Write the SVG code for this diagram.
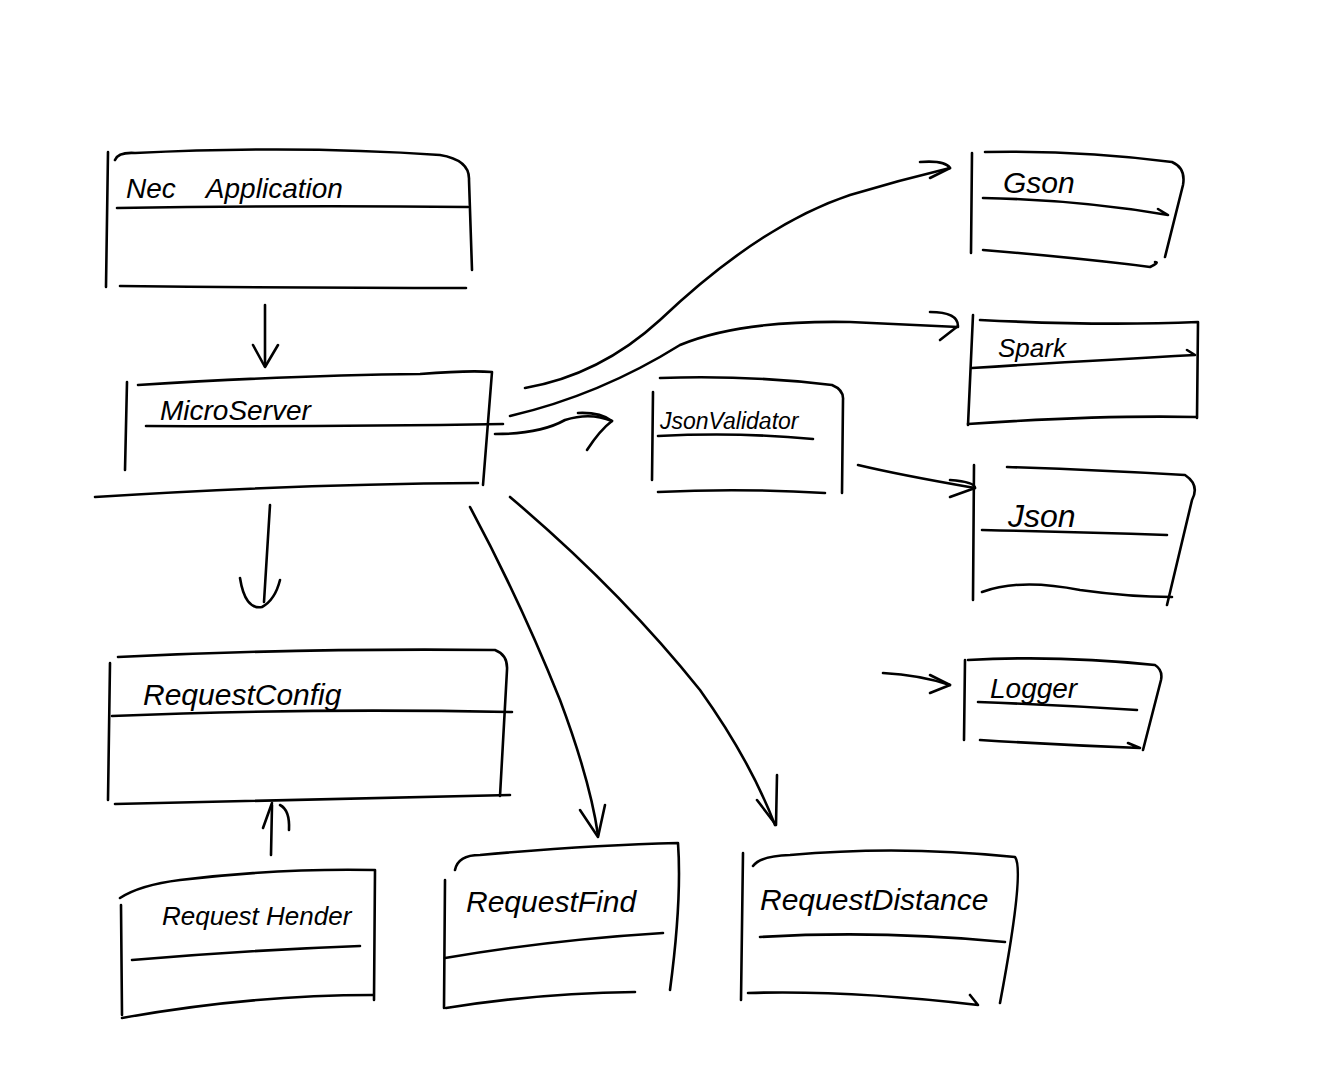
<svg xmlns="http://www.w3.org/2000/svg" width="1340" height="1080" viewBox="0 0 1340 1080">
<style>
.s{fill:none;stroke:#000;stroke-width:2.6;stroke-linecap:round;stroke-linejoin:round}
.t{font-family:"Liberation Sans",Arial,sans-serif;font-style:italic;fill:#000}
</style>
<rect width="1340" height="1080" fill="#fff"/>
<g id="node-nec-application">
<path class="s" d="M108 152 L106 287"/>
<path class="s" d="M115 160 Q118 152 135 153 Q300 145 440 155 Q470 160 469 180 L472 270"/>
<path class="s" d="M117 208 Q300 205 468 207"/>
<path class="s" d="M120 286 Q300 288 466 288"/>
<text class="t" x="126" y="198" font-size="28" xml:space="preserve">Nec    Application</text>
</g>
<g id="node-microserver">
<path class="s" d="M127 382 L125 470"/>
<path class="s" d="M138 385 Q300 375 420 374 Q470 370 492 372 L483 485"/>
<path class="s" d="M146 426 Q320 427 503 424"/>
<path class="s" d="M95 497 Q300 484 478 483"/>
<text class="t" x="160" y="420" font-size="28">MicroServer</text>
</g>
<g id="node-requestconfig">
<path class="s" d="M110 663 L108 800"/>
<path class="s" d="M118 657 Q300 648 495 650 Q508 655 507 670 L500 796"/>
<path class="s" d="M112 716 Q300 708 512 712"/>
<path class="s" d="M115 804 Q300 800 510 795"/>
<text class="t" x="143" y="705" font-size="30">RequestConfig</text>
</g>
<g id="node-request-header">
<path class="s" d="M121 905 L122 1015"/>
<path class="s" d="M120 898 Q140 885 180 880 Q280 868 375 870 L374 1000"/>
<path class="s" d="M132 960 Q250 950 360 946"/>
<path class="s" d="M122 1018 Q250 995 373 995"/>
<text class="t" x="162" y="925" font-size="26">Request Hender</text>
</g>
<g id="node-requestfind">
<path class="s" d="M445 880 L444 1008"/>
<path class="s" d="M455 870 Q458 855 480 855 Q590 845 678 843 Q682 900 670 990"/>
<path class="s" d="M445 958 Q550 940 663 933"/>
<path class="s" d="M446 1008 Q540 993 635 992"/>
<text class="t" x="466" y="912" font-size="30">RequestFind</text>
</g>
<g id="node-requestdistance">
<path class="s" d="M743 853 L741 1000"/>
<path class="s" d="M753 866 Q760 856 790 855 Q900 845 1015 857 Q1025 870 1000 1003"/>
<path class="s" d="M760 937 Q880 930 1005 942"/>
<path class="s" d="M748 993 Q850 990 978 1005 L970 995"/>
<text class="t" x="760" y="910" font-size="30">RequestDistance</text>
</g>
<g id="node-jsonvalidator">
<path class="s" d="M653 392 L652 480"/>
<path class="s" d="M660 378 Q750 375 832 385 Q844 390 843 400 L842 493"/>
<path class="s" d="M658 436 Q740 432 813 439"/>
<path class="s" d="M658 492 Q740 488 825 493"/>
<text class="t" x="660" y="429" font-size="23">JsonValidator</text>
</g>
<g id="node-gson">
<path class="s" d="M972 153 L971 253"/>
<path class="s" d="M985 152 Q1080 150 1172 162 Q1186 168 1183 185 L1165 257"/>
<path class="s" d="M983 198 Q1080 200 1168 215 L1158 209"/>
<path class="s" d="M983 250 Q1080 258 1150 267 Q1160 262 1155 262"/>
<text class="t" x="1003" y="193" font-size="30">Gson</text>
</g>
<g id="node-spark">
<path class="s" d="M973 315 L968 425"/>
<path class="s" d="M980 320 Q1100 326 1198 322 L1197 418"/>
<path class="s" d="M972 368 Q1100 360 1195 355 L1187 350"/>
<path class="s" d="M968 424 Q1100 415 1196 417"/>
<text class="t" x="998" y="357" font-size="26">Spark</text>
</g>
<g id="node-json">
<path class="s" d="M974 465 L973 600"/>
<path class="s" d="M1007 467 Q1100 470 1185 475 Q1200 485 1192 500 L1167 605"/>
<path class="s" d="M982 530 Q1080 532 1167 535"/>
<path class="s" d="M982 592 Q1020 578 1080 590 Q1130 597 1172 597"/>
<text class="t" x="1008" y="527" font-size="32">Json</text>
</g>
<g id="node-logger">
<path class="s" d="M965 660 L964 740"/>
<path class="s" d="M968 660 Q1060 655 1155 665 Q1163 670 1161 680 L1143 750"/>
<path class="s" d="M978 702 Q1060 705 1137 710"/>
<path class="s" d="M980 740 Q1060 745 1140 748 L1128 743"/>
<text class="t" x="990" y="698" font-size="28">Logger</text>
</g>
<g id="connectors">
<path class="s" d="M265 305 L265 366"/>
<path class="s" d="M253 345 L265 367 L278 345"/>
<path class="s" d="M270 505 L264 602"/>
<path class="s" d="M240 578 Q245 610 262 607 Q275 600 280 580"/>
<path class="s" d="M271 855 L272 805"/>
<path class="s" d="M263 828 L272 803"/>
<path class="s" d="M280 805 Q290 810 289 830"/>
<path class="s" d="M470 507 Q520 600 560 700 Q590 780 598 835"/>
<path class="s" d="M580 810 L598 837 L605 805"/>
<path class="s" d="M510 497 Q620 590 700 690 Q750 760 775 825"/>
<path class="s" d="M757 800 L776 825 L777 775"/>
<path class="s" d="M525 388 Q600 375 660 320 Q760 225 850 195 Q900 180 950 168"/>
<path class="s" d="M920 162 Q945 160 950 168 L930 178"/>
<path class="s" d="M510 416 Q600 395 680 345 Q740 320 850 322 L958 327"/>
<path class="s" d="M930 312 Q958 312 958 326 L940 340"/>
<path class="s" d="M495 434 Q540 434 565 420 Q590 412 612 421"/>
<path class="s" d="M578 413 Q600 412 612 421 Q600 430 587 450"/>
<path class="s" d="M858 465 Q900 475 975 488"/>
<path class="s" d="M950 480 Q975 482 975 488 L950 497"/>
<path class="s" d="M883 673 Q920 675 950 685"/>
<path class="s" d="M930 675 L950 685 L930 693"/>
</g>
</svg>
